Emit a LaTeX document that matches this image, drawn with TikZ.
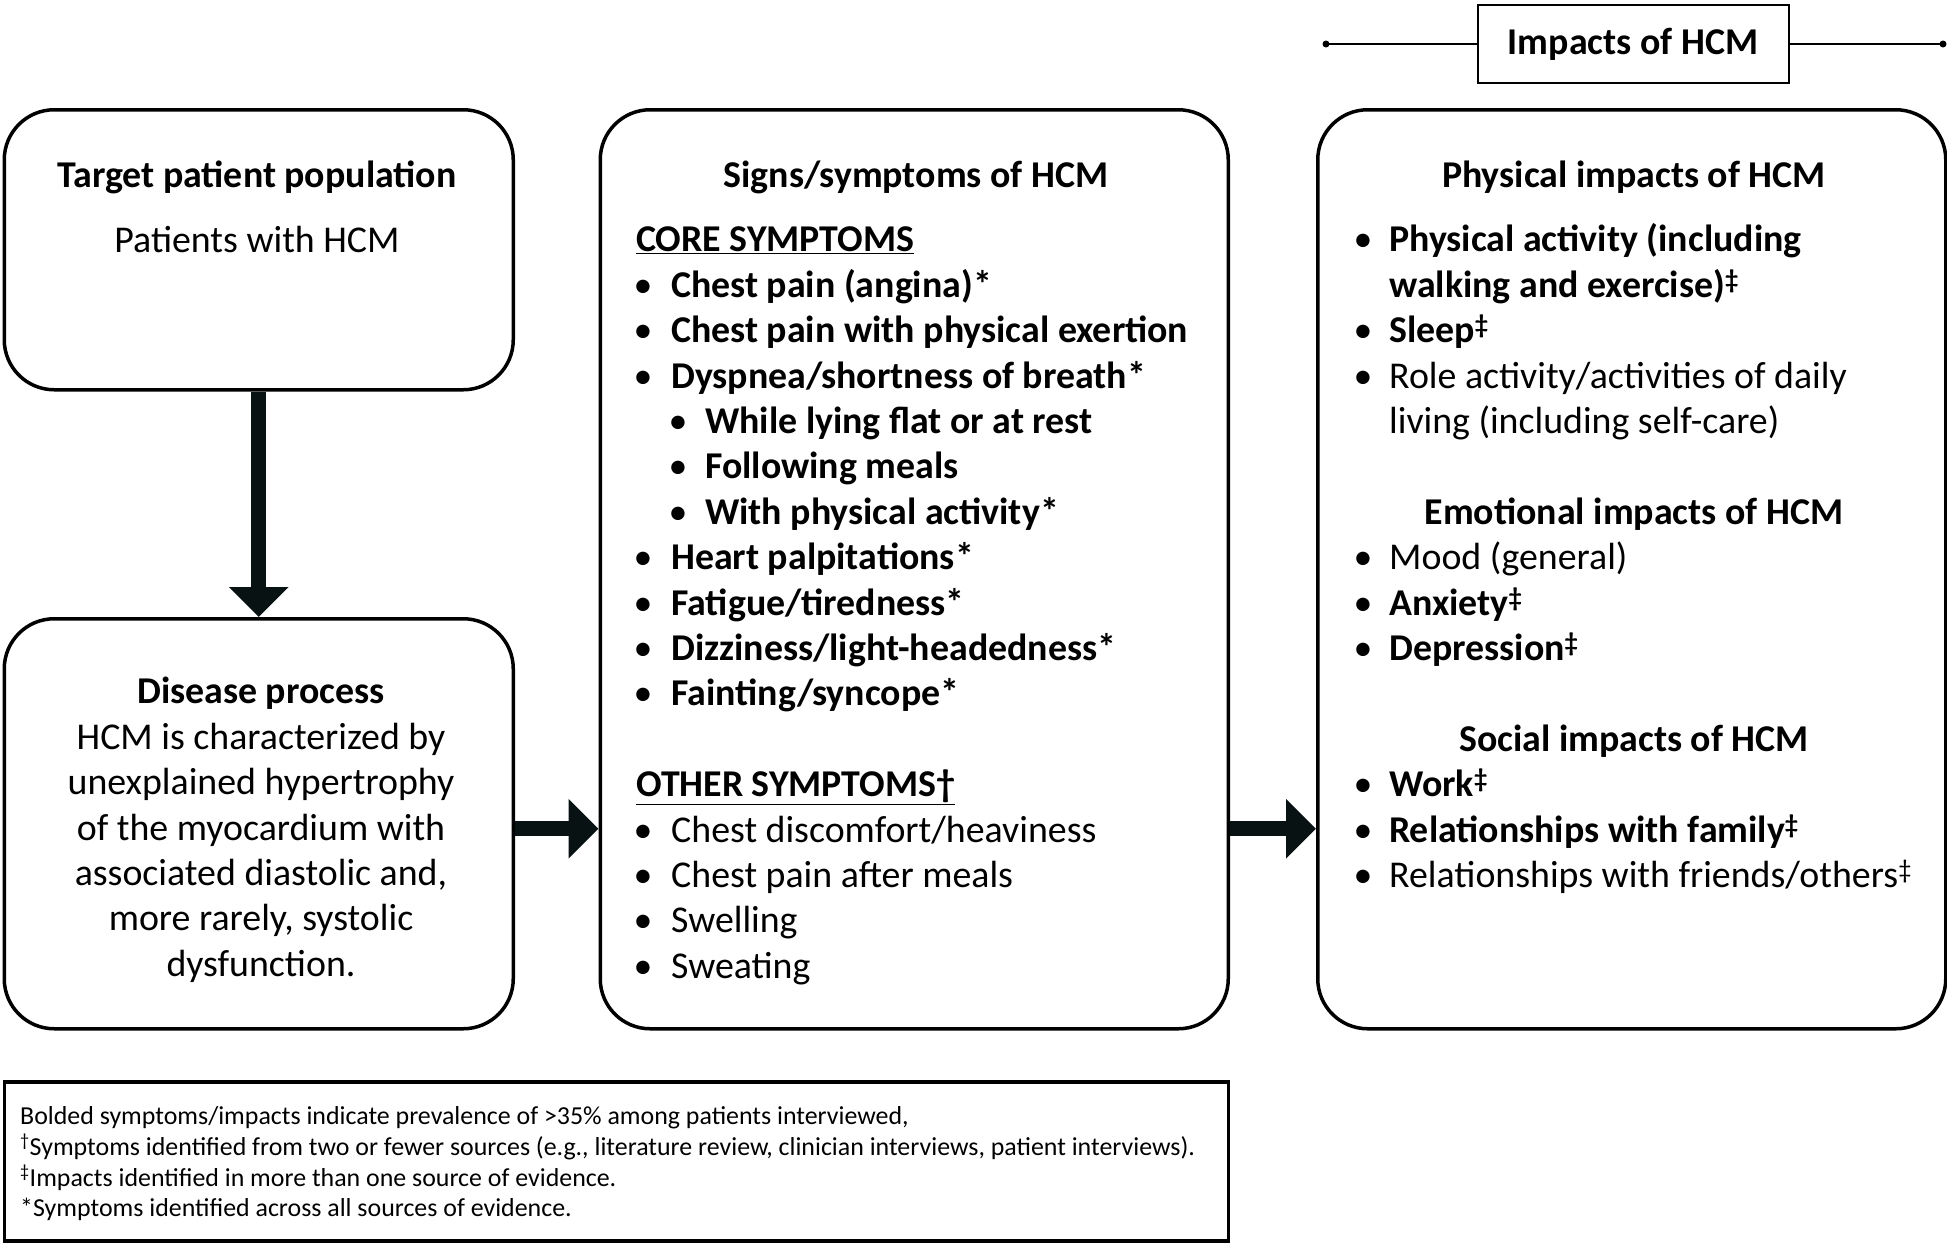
\documentclass[tikz,border=0pt]{standalone}
\usepackage{fontspec}
\setmainfont{Carlito}
\usetikzlibrary{arrows.meta,calc}
\definecolor{arrowcol}{RGB}{8,18,18}
\tikzset{
  roundbox/.style={draw=black, line width=3.5bp, rounded corners=50bp, anchor=north west, inner sep=0pt},
  bigtext/.style={font=\fontsize{38}{45}\selectfont, inner sep=0pt, anchor=mid west, yshift=-10bp},
  ctitle/.style={font=\fontsize{38}{45}\selectfont\bfseries, inner sep=0pt, anchor=mid, yshift=-10bp},
  ctext/.style={font=\fontsize{38}{45}\selectfont, inner sep=0pt, anchor=mid, yshift=-10bp},
  btext/.style={font=\fontsize{38}{45}\selectfont\bfseries, inner sep=0pt, anchor=mid west, yshift=-10bp},
  bul/.style={font=\fontsize{38}{45}\selectfont, inner sep=0pt, anchor=mid, yshift=-10bp},
  foot/.style={font=\fontsize{26}{30}\selectfont, inner sep=0pt, anchor=mid west, yshift=-6bp},
  bigarrow/.style={draw=arrowcol, line width=15bp, -{Triangle[length=30bp,width=58bp]}},
}
\begin{document}
\begin{tikzpicture}[x=1bp,y=-1bp]
\useasboundingbox (0,0) rectangle (1947,1243);
% boxes
\node[roundbox, minimum width=509bp, minimum height=280bp] (tp) at (2.5,108) {};
\node[roundbox, minimum width=509bp, minimum height=410bp] (dp) at (2.5,617) {};
\node[roundbox, minimum width=628bp, minimum height=919bp] (sym) at (598.5,108) {};
\node[roundbox, minimum width=628bp, minimum height=919bp] (imp) at (1316,108) {};
\node[draw=black, line width=3.5bp, anchor=north west, minimum width=1224bp, minimum height=159bp, inner sep=0pt] (fn) at (2.5,1080) {};
% header
\node[draw=black, line width=2bp, minimum width=311bp, minimum height=78bp, inner sep=0pt,
      font=\fontsize{38}{40}\selectfont\bfseries] (hd) at (1633,44) {\raisebox{-1bp}{Impacts of HCM}};
\coordinate (hl) at (1326,44);
\coordinate (hr) at (1943,44);
\draw[line width=2bp] (hl) -- (hd.west);
\draw[line width=2bp] (hd.east) -- (hr);
\fill (hl) circle (3.5bp);
\fill (hr) circle (3.5bp);
% arrows
\draw[bigarrow] (tp.south) -- (dp.north);
\draw[bigarrow] ($(dp.east)+(0,5)$) -- ($(dp.east -| sym.west)+(0,5)$);
\draw[bigarrow] ($(dp.east -| sym.east)+(0,5)$) -- ($(dp.east -| imp.west)+(0,5)$);
% box 1
\node[ctitle] (tpt) at (257,175) {Target patient population};
\node[ctext] (tpx) at (257,240) {Patients with HCM};
% box 2
\node[ctitle] (dpt) at (261,691.6) {Disease process};
\node[ctext] (dp1) at (261,737.0) {HCM is characterized by};
\node[ctext] (dp2) at (261,782.4) {unexplained hypertrophy};
\node[ctext] (dp3) at (261,827.8) {of the myocardium with};
\node[ctext] (dp4) at (261,873.2) {associated diastolic and,};
\node[ctext] (dp5) at (261,918.6) {more rarely, systolic};
\node[ctext] (dp6) at (261,964.0) {dysfunction.};
% middle box
\node[ctitle] (symt) at (916,175) {Signs/symptoms of HCM};
\node[btext] (core) at (636,239.6) {\underline{CORE SYMPTOMS}};
\node[bul] (cb1) at (643,285.0) {•}; \node[btext] (c1) at (671,285.0) {Chest pain (angina)*};
\node[bul] (cb2) at (643,330.4) {•}; \node[btext] (c2) at (671,330.4) {Chest pain with physical exertion};
\node[bul] (cb3) at (643,375.8) {•}; \node[btext] (c3) at (671,375.8) {Dyspnea/shortness of breath*};
\node[bul] (cb4) at (678,421.2) {•}; \node[btext] (c4) at (705,421.2) {While lying flat or at rest};
\node[bul] (cb5) at (678,466.6) {•}; \node[btext] (c5) at (705,466.6) {Following meals};
\node[bul] (cb6) at (678,512.0) {•}; \node[btext] (c6) at (705,512.0) {With physical activity*};
\node[bul] (cb7) at (643,557.4) {•}; \node[btext] (c7) at (671,557.4) {Heart palpitations*};
\node[bul] (cb8) at (643,602.8) {•}; \node[btext] (c8) at (671,602.8) {Fatigue/tiredness*};
\node[bul] (cb9) at (643,648.2) {•}; \node[btext] (c9) at (671,648.2) {Dizziness/light-headedness*};
\node[bul] (cb10) at (643,693.6) {•}; \node[btext] (c10) at (671,693.6) {Fainting/syncope*};
\node[btext] (other) at (636,784.4) {\underline{OTHER SYMPTOMS†}};
\node[bul] (ob1) at (643,829.8) {•}; \node[bigtext] (o1) at (671,829.8) {Chest discomfort/heaviness};
\node[bul] (ob2) at (643,875.2) {•}; \node[bigtext] (o2) at (671,875.2) {Chest pain after meals};
\node[bul] (ob3) at (643,920.6) {•}; \node[bigtext] (o3) at (671,920.6) {Swelling};
\node[bul] (ob4) at (643,966.0) {•}; \node[bigtext] (o4) at (671,966.0) {Sweating};
% right box
\node[ctitle] (impt) at (1634,175) {Physical impacts of HCM};
\node[bul] (pb1) at (1363,239.6) {•}; \node[btext] (p1) at (1389,239.6) {Physical activity (including};
\node[btext] (p1b) at (1389,285.0) {walking and exercise)\textsuperscript{‡}};
\node[bul] (pb2) at (1363,330.4) {•}; \node[btext] (p2) at (1389,330.4) {Sleep\textsuperscript{‡}};
\node[bul] (pb3) at (1363,375.8) {•}; \node[bigtext] (p3) at (1389,375.8) {Role activity/activities of daily};
\node[bigtext] (p3b) at (1389,421.2) {living (including self-care)};
\node[ctitle] (emt) at (1634,512.0) {Emotional impacts of HCM};
\node[bul] (eb1) at (1363,557.4) {•}; \node[bigtext] (e1) at (1389,557.4) {Mood (general)};
\node[bul] (eb2) at (1363,602.8) {•}; \node[btext] (e2) at (1389,602.8) {Anxiety\textsuperscript{‡}};
\node[bul] (eb3) at (1363,648.2) {•}; \node[btext] (e3) at (1389,648.2) {Depression\textsuperscript{‡}};
\node[ctitle] (sot) at (1634,739.0) {Social impacts of HCM};
\node[bul] (sb1) at (1363,784.4) {•}; \node[btext] (s1) at (1389,784.4) {Work\textsuperscript{‡}};
\node[bul] (sb2) at (1363,829.8) {•}; \node[btext] (s2) at (1389,829.8) {Relationships with family\textsuperscript{‡}};
\node[bul] (sb3) at (1363,875.2) {•}; \node[bigtext] (s3) at (1389,875.2) {Relationships with friends/others\textsuperscript{‡}};
% footnote
\node[foot] (f1) at (20,1116) {Bolded symptoms/impacts indicate prevalence of >35\% among patients interviewed,};
\node[foot] (f2) at (20,1147) {\textsuperscript{†}Symptoms identified from two or fewer sources (e.g., literature review, clinician interviews, patient interviews).};
\node[foot] (f3) at (20,1178) {\textsuperscript{‡}Impacts identified in more than one source of evidence.};
\node[foot] (f4) at (20,1208) {*Symptoms identified across all sources of evidence.};
\end{tikzpicture}
\end{document}
